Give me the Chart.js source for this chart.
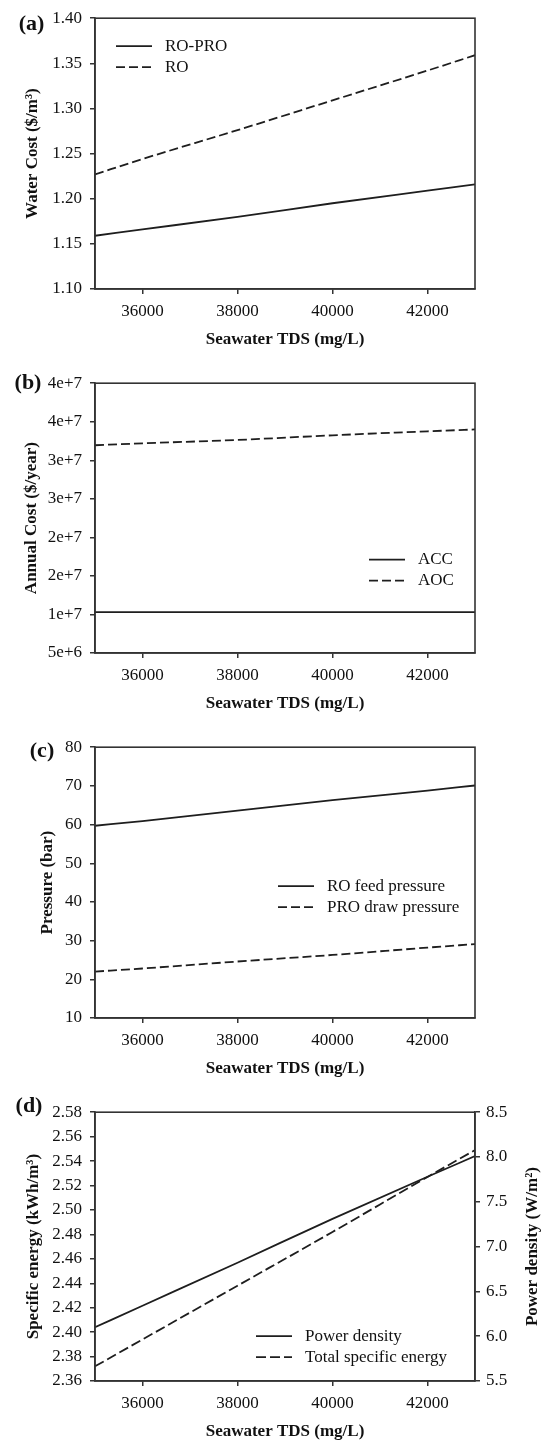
<!DOCTYPE html>
<html>
<head>
<meta charset="utf-8">
<script src="https://cdn.jsdelivr.net/npm/chart.js@4.4.0/dist/chart.umd.min.js"></script>
<style>
  html, body { margin: 0; padding: 0; background: #fff; }
  body { width: 549px; height: 1445px; position: relative; overflow: hidden; }
  canvas { position: absolute; left: 0; }
</style>
</head>
<body>
<canvas id="chartA" width="549" height="351" style="top:0px"></canvas>
<canvas id="chartB" width="549" height="350" style="top:365px"></canvas>
<canvas id="chartC" width="549" height="351" style="top:729px"></canvas>
<canvas id="chartD" width="549" height="349" style="top:1094px"></canvas>
<script>
// Seawater TDS (mg/L), shared by all four panels
const tds = [35000, 36000, 38000, 40000, 42000, 43000];
const tdsTicks = [36000, 38000, 40000, 42000];

// (a) water cost ($/m3)
const costRoPro = [1.159, 1.166, 1.180, 1.195, 1.209, 1.216];
const costRo = [1.227, 1.244, 1.276, 1.309, 1.342, 1.359];
const waterCostTicks = [1.10, 1.15, 1.20, 1.25, 1.30, 1.35, 1.40];

// (b) annual cost ($/year)
const acc = [1.03e7, 1.03e7, 1.03e7, 1.03e7, 1.03e7, 1.03e7];
const aoc = [3.195e7, 3.22e7, 3.264e7, 3.324e7, 3.376e7, 3.40e7];
const annualTicks = [5e6, 1e7, 1.5e7, 2e7, 2.5e7, 3e7, 3.5e7, 4e7];
const annualTickLabels = ['5e+6', '1e+7', '2e+7', '2e+7', '3e+7', '3e+7', '4e+7', '4e+7'];

// (c) pressure (bar)
const roFeed = [59.7, 60.9, 63.6, 66.3, 68.8, 70.1];
const proDraw = [22.0, 22.8, 24.6, 26.3, 28.2, 29.1];
const pressureTicks = [10, 20, 30, 40, 50, 60, 70, 80];

// (d) power density (W/m2, right axis) and total specific energy (kWh/m3, left axis)
const powerDensity = [6.10, 6.34, 6.82, 7.31, 7.78, 8.01];
const specEnergy = [2.372, 2.394, 2.438, 2.482, 2.527, 2.549];
const energyTicks = [2.36, 2.38, 2.40, 2.42, 2.44, 2.46, 2.48, 2.50, 2.52, 2.54, 2.56, 2.58];
const densityTicks = [5.5, 6.0, 6.5, 7.0, 7.5, 8.0, 8.5];

const SERIF = "'Liberation Serif', 'Times New Roman', serif";
const INK = '#1e1e1e';
const AXIS = '#333';
const TEXT = '#111';
const DASH = [9, 4];

// box around the plotting area
const frameBox = {
    id: 'frameBox',
    afterDatasetsDraw(chart) {
        const { ctx, chartArea: a } = chart;
        ctx.save();
        ctx.strokeStyle = AXIS;
        ctx.lineWidth = 1.6;
        ctx.strokeRect(a.left, a.top, a.right - a.left, a.bottom - a.top);
        ctx.restore();
    }
};

// legend drawn inside the plot, one row per dataset
const insideLegend = {
    id: 'insideLegend',
    afterDraw(chart, args, opts) {
        const { ctx, chartArea: a } = chart;
        ctx.save();
        ctx.font = '17px ' + SERIF;
        ctx.textBaseline = 'middle';
        ctx.fillStyle = TEXT;
        chart.data.datasets.forEach((ds, i) => {
            const x0 = a.left + opts.x;
            const y = a.top + opts.y + i * 21;
            ctx.strokeStyle = ds.borderColor;
            ctx.lineWidth = ds.borderWidth;
            ctx.setLineDash(ds.borderDash || []);
            ctx.beginPath();
            ctx.moveTo(x0, y);
            ctx.lineTo(x0 + 36, y);
            ctx.stroke();
            ctx.setLineDash([]);
            ctx.fillText(ds.label, x0 + 49, y);
        });
        ctx.restore();
    }
};

// panel letter, plus the right-hand axis title that reads bottom to top
const panelText = {
    id: 'panelText',
    afterDraw(chart, args, opts) {
        const { ctx, chartArea: a } = chart;
        ctx.save();
        ctx.fillStyle = TEXT;
        ctx.textAlign = 'center';
        ctx.textBaseline = 'middle';
        ctx.font = 'bold 22px ' + SERIF;
        ctx.fillText(opts.letter, a.left + opts.dx, a.top + opts.dy);
        if (opts.rightTitle) {
            ctx.font = 'bold 17px ' + SERIF;
            ctx.translate(a.right + 58, (a.top + a.bottom) / 2);
            ctx.rotate(-Math.PI / 2);
            ctx.fillText(opts.rightTitle, 0, 0);
        }
        ctx.restore();
    }
};

function points(ys) {
    return tds.map((x, i) => ({ x: x, y: ys[i] }));
}

function series(label, ys, dash, axis) {
    return {
        label: label,
        data: points(ys),
        borderColor: INK,
        borderWidth: 1.8,
        borderDash: dash,
        pointRadius: 0,
        fill: false,
        cubicInterpolationMode: 'monotone',
        yAxisID: axis || 'y'
    };
}

function xAxis() {
    return {
        type: 'linear',
        min: 35000,
        max: 43000,
        afterBuildTicks: s => { s.ticks = tdsTicks.map(v => ({ value: v })); },
        afterFit: s => { s.height = 62; },
        border: { color: AXIS, width: 1.6 },
        grid: { drawOnChartArea: false, tickLength: 5, color: AXIS, lineWidth: 1.5 },
        ticks: {
            color: TEXT, padding: 7, maxRotation: 0,
            font: { family: SERIF, size: 17 },
            callback: v => String(v)
        },
        title: {
            display: true, text: 'Seawater TDS (mg/L)', color: TEXT,
            font: { family: SERIF, size: 17, weight: 'bold' },
            padding: { top: 0, bottom: 1 }
        }
    };
}

function yAxis(tickValues, format, title, titlePad, position) {
    const axis = {
        type: 'linear',
        position: position || 'left',
        min: tickValues[0],
        max: tickValues[tickValues.length - 1],
        afterBuildTicks: s => { s.ticks = tickValues.map(v => ({ value: v })); },
        afterFit: s => { s.width = position === 'right' ? 74 : 95; },
        border: { color: AXIS, width: 1.6 },
        grid: { drawOnChartArea: false, tickLength: 5, color: AXIS, lineWidth: 1.5 },
        ticks: {
            color: TEXT, padding: position === 'right' ? 6 : 8,
            font: { family: SERIF, size: 17 },
            callback: format
        },
        title: { display: false }
    };
    if (title) {
        axis.title = {
            display: true, text: title, color: TEXT,
            font: { family: SERIF, size: 17, weight: 'bold' },
            padding: { top: titlePad, bottom: 0 }
        };
    }
    return axis;
}

function makePanel(id, datasets, scales, legendPos, letter, rightTitle) {
    const rightPad = scales.y2 ? 0 : 74;
    new Chart(document.getElementById(id), {
        type: 'line',
        data: { datasets: datasets },
        options: {
            responsive: false,
            animation: false,
            layout: { padding: { left: 0, right: rightPad, top: 17, bottom: 0 } },
            scales: scales,
            plugins: {
                legend: { display: false },
                tooltip: { enabled: false },
                insideLegend: legendPos,
                panelText: Object.assign({ rightTitle: rightTitle }, letter)
            }
        },
        plugins: [frameBox, insideLegend, panelText]
    });
}

makePanel('chartA',
    [series('RO-PRO', costRoPro, []), series('RO', costRo, DASH)],
    { x: xAxis(), y: yAxis(waterCostTicks, v => v.toFixed(2), 'Water Cost ($/m³)', 22.8) },
    { x: 21, y: 28 },
    { letter: '(a)', dx: -63.5, dy: 6 });

makePanel('chartB',
    [series('ACC', acc, []), series('AOC', aoc, DASH)],
    { x: xAxis(), y: yAxis(annualTicks, (v, i) => annualTickLabels[i], 'Annual Cost ($/year)', 21) },
    { x: 274, y: 176.5 },
    { letter: '(b)', dx: -67, dy: 0 });

makePanel('chartC',
    [series('RO feed pressure', roFeed, []), series('PRO draw pressure', proDraw, DASH)],
    { x: xAxis(), y: yAxis(pressureTicks, v => String(v), 'Pressure (bar)', 37) },
    { x: 183, y: 139 },
    { letter: '(c)', dx: -53, dy: 4 });

makePanel('chartD',
    [series('Power density', powerDensity, [], 'y2'), series('Total specific energy', specEnergy, [10, 4])],
    {
        x: xAxis(),
        y: yAxis(energyTicks, v => v.toFixed(2), 'Specific energy (kWh/m³)', 23),
        y2: yAxis(densityTicks, v => v.toFixed(1), null, 0, 'right')
    },
    { x: 161, y: 224 },
    { letter: '(d)', dx: -66, dy: -6 },
    'Power density (W/m²)');
</script>
</body>
</html>
